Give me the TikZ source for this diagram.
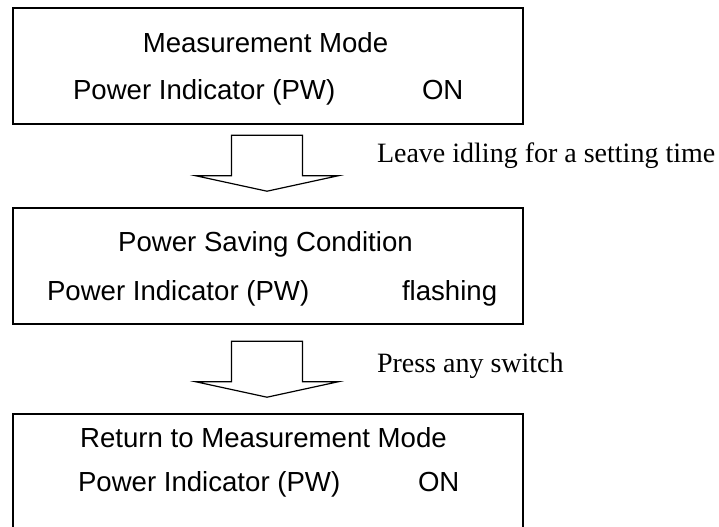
\documentclass[tikz,border=0pt]{standalone}
\usepackage{fontspec}
\setmainfont{Liberation Serif}
\setsansfont{Liberation Sans}
\usetikzlibrary{positioning,calc}
\definecolor{ink}{HTML}{000000}
\tikzset{
  statebox/.style = {draw=ink, line width=0.8pt, fill=white, inner sep=0pt,
                     minimum width=255pt, minimum height=58pt},
  title/.style    = {font=\fontsize{13.8}{16}\selectfont\sffamily\color{ink}, anchor=base, inner sep=0pt, outer sep=0pt},
  ind/.style      = {font=\fontsize{13.8}{16}\selectfont\sffamily\color{ink}, anchor=base west, inner sep=0pt, outer sep=0pt},
  note/.style     = {font=\fontsize{14}{16}\selectfont\rmfamily\color{ink}, anchor=base west, inner sep=0pt, outer sep=0pt},
  fatarrow/.style = {draw=ink, line width=0.6pt, fill=white},
}

\begin{document}
\begin{tikzpicture}[x=0.5pt,y=0.5pt]
\path[use as bounding box] (0,0) rectangle (719,526);
\clip (0,0) rectangle (719,526);

% the hollow down arrow, tip at the origin
\tikzset{
  downarrow/.pic={
    \draw[fatarrow] (-35.5,56) -- (-35.5,15.5) -- (-71.5,15.5) -- (0,0)
      -- (71.5,15.5) -- (35.5,15.5) -- (35.5,56) -- cycle;
  }
}

% ---------- the three states --------------------------------------------
\node[statebox] (measure) at (268,460) {};
\node[statebox] (saving)  at (268,260) {};
\node[statebox] (back)    at (268,54)  {};

% measurement mode
\node[title] (measuret) at (265.5,473) {Measurement Mode};
\node[ind]   (measurei) at (73,426)    {Power Indicator (PW)};
\node[ind]   (measures) at (422,426)   {ON};

% power saving
\node[title] (savingt) at (265.5,274) {Power Saving Condition};
\node[ind]   (savingi) at (47,226)    {Power Indicator (PW)};
\node[ind]   (savings) at (402,226)   {flashing};

% back to measurement
\node[title] (backt) at (263.5,78) {Return to Measurement Mode};
\node[ind]   (backi) at (78,34)    {Power Indicator (PW)};
\node[ind]   (backs) at (418,34)   {ON};

% ---------- transitions -------------------------------------------------
\coordinate (tipa) at ($(saving.north)+(-1,16)$);
\coordinate (tipb) at ($(back.north)+(-1,16)$);

\pic at (tipa) {downarrow};
\pic at (tipb) {downarrow};

\node[note] (idle)  at ($(tipa)+(110,29)$) {Leave idling for a setting time};
\node[note] (press) at ($(tipb)+(110,25)$) {Press any switch};

\end{tikzpicture}
\end{document}
